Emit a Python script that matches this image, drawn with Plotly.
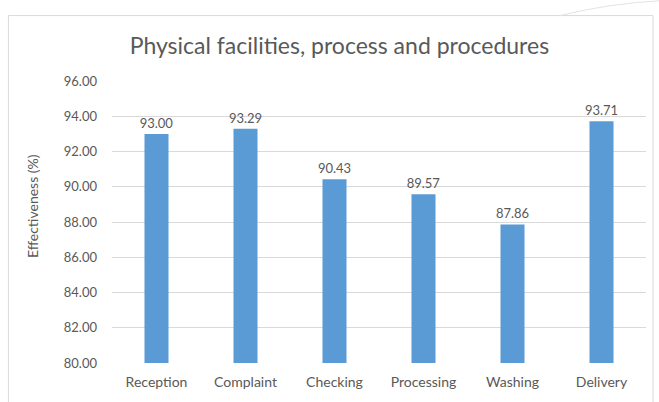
import plotly.graph_objects as go

categories = ["Reception", "Complaint", "Checking", "Processing", "Washing", "Delivery"]
values = [93.00, 93.29, 90.43, 89.57, 87.86, 93.71]
tick_vals = [80, 82, 84, 86, 88, 90, 92, 94, 96]
tick_text = ["80.00", "82.00", "84.00", "86.00", "88.00", "90.00", "92.00", "94.00", "96.00"]

FONT = "Lato"
GREY = "#595959"

fig = go.Figure(go.Bar(
    x=categories, y=values,
    marker=dict(color="#5B9BD5", line=dict(width=0)),
    text=[f"{v:.2f}" for v in values],
    textposition="outside",
    constraintext="none",
    textfont=dict(family=FONT, size=13, color=GREY),
    cliponaxis=False,
))

fig.update_layout(
    width=659, height=402,
    margin=dict(l=112, r=13, t=81, b=37),
    paper_bgcolor="white", plot_bgcolor="white",
    bargap=0.73,
    showlegend=False,
    title=dict(text="Physical facilities, process and procedures",
               font=dict(family=FONT, size=23, color=GREY),
               x=0.515, xanchor="center", y=0.885, yanchor="middle"),
    xaxis=dict(showgrid=False, showline=False, ticks="",
               ticklabelstandoff=9,
               tickfont=dict(family=FONT, size=14, color=GREY)),
    yaxis=dict(range=[80, 96], tickvals=tick_vals, ticktext=tick_text,
               showgrid=True, gridcolor="#D9D9D9", gridwidth=1,
               zeroline=False, showline=False, ticks="",
               ticklabelstandoff=14,
               tickfont=dict(family=FONT, size=13, color=GREY)),
    annotations=[dict(text="Effectiveness (%)", textangle=-90,
                      xref="paper", yref="paper", x=-0.15, y=0.556,
                      xanchor="center", yanchor="middle", showarrow=False,
                      font=dict(family=FONT, size=14, color=GREY))],
    shapes=[
        dict(type="rect", xref="paper", yref="paper",
             x0=-0.194, x1=1.013, y0=-0.2, y1=1.232,
             line=dict(color="#D9D9D9", width=1), layer="below"),
        dict(type="path", xref="paper", yref="paper",
             path="M 0.839,1.232 Q 0.93,1.275 1.03,1.285",
             line=dict(color="#E3E3E3", width=1), layer="below"),
    ],
)

fig.write_html("out.html")
